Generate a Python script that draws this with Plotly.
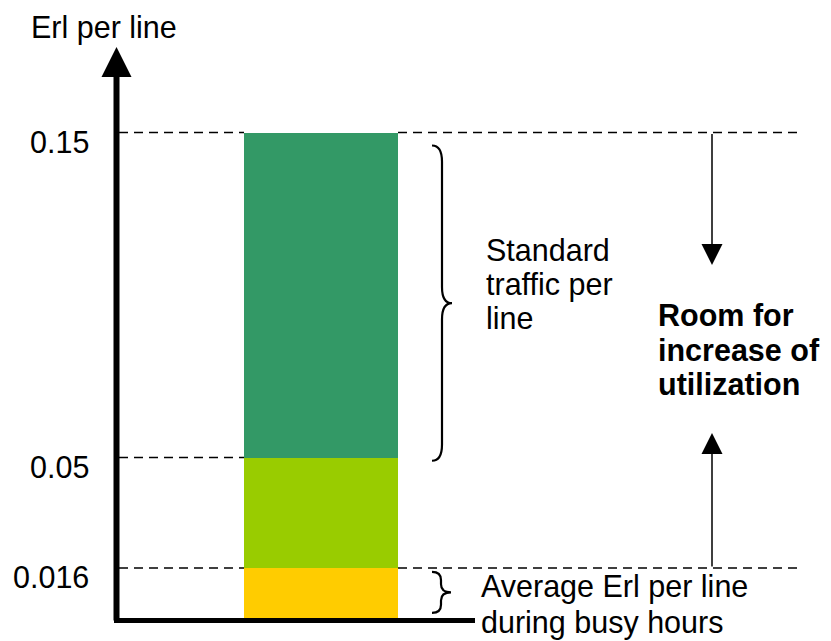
import numpy as np
import plotly.graph_objects as go

# Traffic levels (Erlang per line)
levels = [0.016, 0.05, 0.15]
tick_labels = ["0.016", "0.05", "0.15"]
segment_names = ["Average busy-hour traffic", "Headroom", "Standard traffic"]
segment_colors = ["#FFCC00", "#99CC00", "#339966"]

bounds = np.concatenate([[0.0], levels])
segment_heights = np.diff(bounds)
segment_bases = bounds[:-1]

W, H = 831, 641
BASE_PX = 620            # pixel row of the zero line
PX_PER_UNIT = 3250.0     # vertical scale
Y_TOP = BASE_PX / PX_PER_UNIT
Y_BOTTOM = (BASE_PX - H) / PX_PER_UNIT


def py(row):
    """Convert a pixel row to a y value."""
    return (BASE_PX - row) / PX_PER_UNIT


FONT = "Liberation Sans, Arial, sans-serif"
FS = 30.5

fig = go.Figure()

for name, h, b, c in zip(segment_names, segment_heights, segment_bases, segment_colors):
    fig.add_trace(go.Bar(
        x=[321], y=[h], base=[b], width=[154],
        marker=dict(color=c, line=dict(width=0)),
        name=name, showlegend=False, hoverinfo="skip",
    ))

shapes = []
annotations = []

# dashed guide lines: left of bar for every level, right of bar for the outer two
for lv in levels:
    shapes.append(dict(type="line", xref="x", yref="y", x0=119, x1=244, y0=lv, y1=lv,
                       line=dict(color="black", width=1.4, dash="9px,6px")))
for lv in (levels[0], levels[2]):
    shapes.append(dict(type="line", xref="x", yref="y", x0=398, x1=797, y0=lv, y1=lv,
                       line=dict(color="black", width=1.4, dash="9px,6px")))

# x axis (thick baseline)
shapes.append(dict(type="line", xref="x", yref="y", x0=114, x1=475, y0=py(620.5), y1=py(620.5),
                   line=dict(color="black", width=5)))


def brace(x0, xm, xt, ytop, ybot, r):
    ymid = (ytop + ybot) / 2
    return (f"M{x0},{ytop} Q{xm},{ytop} {xm},{ytop - r} "
            f"L{xm},{ymid + r} Q{xm},{ymid} {xt},{ymid} "
            f"Q{xm},{ymid} {xm},{ymid - r} "
            f"L{xm},{ybot + r} Q{xm},{ybot} {x0},{ybot}")


# brace over the standard-traffic segment
shapes.append(dict(type="path", xref="x", yref="y",
                   path=brace(432, 442, 452, levels[2] - 0.004, levels[1] - 0.001, 0.005),
                   line=dict(color="black", width=2.2)))
# brace over the busy-hour segment
shapes.append(dict(type="path", xref="x", yref="y",
                   path=brace(432, 441, 451, levels[0] - 0.0012, 0.0022, 0.0025),
                   line=dict(color="black", width=2.2)))

# y axis with arrow head
annotations.append(dict(x=116.5, y=py(47), ax=116.5, ay=py(622), xref="x", yref="y",
                        axref="x", ayref="y", text="", showarrow=True,
                        arrowhead=2, arrowsize=1, arrowwidth=6, arrowcolor="black", standoff=0))

# arrows pointing into the utilisation room
annotations.append(dict(x=712, y=py(265), ax=712, ay=levels[2], xref="x", yref="y",
                        axref="x", ayref="y", text="", showarrow=True,
                        arrowhead=2, arrowsize=2.8, arrowwidth=1.5, arrowcolor="black", standoff=0))
annotations.append(dict(x=712, y=py(433), ax=712, ay=levels[0], xref="x", yref="y",
                        axref="x", ayref="y", text="", showarrow=True,
                        arrowhead=2, arrowsize=2.8, arrowwidth=1.5, arrowcolor="black", standoff=0))

# tick labels
for lv, t in zip(levels, tick_labels):
    annotations.append(dict(x=91, y=lv, xref="x", yref="y", text=t, showarrow=False,
                            xanchor="right", yanchor="middle", yshift=-9,
                            font=dict(family=FONT, size=FS, color="black")))


def label(text, x, row, bold=False):
    annotations.append(dict(x=x, y=py(row), xref="x", yref="y",
                            text=f"<b>{text}</b>" if bold else text,
                            showarrow=False, xanchor="left", yanchor="middle",
                            font=dict(family=FONT, size=FS, color="black")))


label("Erl per line", 29, 27)
for t, r in zip(["Standard", "traffic per", "line"], [250, 284, 318]):
    label(t, 484, r)
for t, r in zip(["Room for", "increase of", "utilization"], [315, 350, 384]):
    label(t, 656, r, bold=True)
label("Average Erl per line", 479, 586)
label("during busy hours", 479, 622)

fig.update_layout(
    width=W, height=H,
    margin=dict(l=0, r=0, t=0, b=0),
    paper_bgcolor="white", plot_bgcolor="white",
    barmode="overlay", bargap=0,
    xaxis=dict(range=[0, W], visible=False, fixedrange=True),
    yaxis=dict(range=[Y_BOTTOM, Y_TOP], visible=False, fixedrange=True),
    shapes=shapes, annotations=annotations,
    showlegend=False,
)

fig.write_html("out.html")
